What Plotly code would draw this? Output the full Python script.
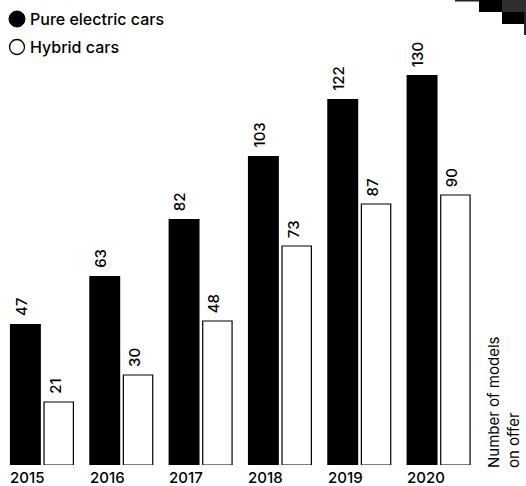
import plotly.graph_objects as go

years = ["2015", "2016", "2017", "2018", "2019", "2020"]
electric = [47, 63, 82, 103, 122, 130]
hybrid = [21, 30, 48, 73, 87, 90]
legend_labels = ["Pure electric cars", "Hybrid cars"]
axis_title = "Number of models<br>on offer"

W, H = 526, 486
FONT = "Inter, Liberation Sans, Arial, sans-serif"
xs = list(range(len(years)))

fig = go.Figure()
fig.add_trace(go.Bar(x=xs, y=electric, offset=-0.40, width=0.39,
                     marker=dict(color="black", line=dict(width=0)),
                     showlegend=False, hoverinfo="skip"))
fig.add_trace(go.Bar(x=xs, y=hybrid, offset=0.03, width=0.37,
                     marker=dict(color="white", line=dict(color="black", width=1.2)),
                     showlegend=False, hoverinfo="skip"))

ann = []
for i, (e, h) in enumerate(zip(electric, hybrid)):
    ann.append(dict(x=i - 0.405, y=e, xref="x", yref="y", text=str(e), textangle=-90,
                    showarrow=False, xanchor="left", yanchor="bottom", yshift=6,
                    font=dict(family=FONT, size=15, color="black", weight=500)))
    ann.append(dict(x=i + 0.025, y=h, xref="x", yref="y", text=str(h), textangle=-90,
                    showarrow=False, xanchor="left", yanchor="bottom", yshift=6,
                    font=dict(family=FONT, size=15, color="black", weight=500)))
    ann.append(dict(x=i - 0.42, y=0, xref="x", yref="y", text=years[i],
                    showarrow=False, xanchor="left", yanchor="top", yshift=-1,
                    font=dict(family=FONT, size=15, color="black", weight=500)))

# legend
for k, lab in enumerate(legend_labels):
    ann.append(dict(x=28 / W, y=1 - (19 + 28 * k) / H, xref="paper", yref="paper",
                    text=lab, showarrow=False, xanchor="left", yanchor="middle",
                    font=dict(family=FONT, size=16, color="black", weight=500)))
# right title
ann.append(dict(x=503 / W, y=1 - 470 / H, xref="paper", yref="paper", text=axis_title,
                textangle=-90, showarrow=False, xanchor="center", yanchor="bottom",
                align="left", font=dict(family=FONT, size=15, color="black")))

def px(x0, y0, x1, y1, **kw):
    d = dict(type="rect", xref="paper", yref="paper",
             x0=x0 / W, x1=x1 / W, y0=1 - y1 / H, y1=1 - y0 / H, layer="above")
    d.update(kw)
    return d

shapes = [
    dict(type="circle", xref="paper", yref="paper", x0=9 / W, x1=25 / W,
         y0=1 - 27 / H, y1=1 - 11 / H, fillcolor="black", line=dict(color="black", width=1)),
    dict(type="circle", xref="paper", yref="paper", x0=9.5 / W, x1=24.5 / W,
         y0=1 - 54.5 / H, y1=1 - 39.5 / H, fillcolor="white", line=dict(color="black", width=1.3)),
    px(455, 0, 479, 1.5, fillcolor="#222", line=dict(width=0)),
    px(479, 0, 502, 12, fillcolor="black", line=dict(width=0)),
    px(502, 0, 526, 12, fillcolor="#2e2e2e", line=dict(width=0)),
    px(502, 12, 524, 24, fillcolor="black", line=dict(width=0)),
    px(524, 12, 526, 35, fillcolor="#222", line=dict(width=0)),
]

fig.update_layout(
    width=W, height=H,
    margin=dict(l=0, r=0, t=0, b=0),
    paper_bgcolor="white", plot_bgcolor="white",
    barmode="overlay",
    xaxis=dict(domain=[2 / W, 478 / W], range=[-0.5, 5.5], visible=False, fixedrange=True),
    yaxis=dict(domain=[21 / H, 441 / H], range=[0, 140], visible=False, fixedrange=True),
    annotations=ann, shapes=shapes, showlegend=False,
)

fig.write_html("out.html")
